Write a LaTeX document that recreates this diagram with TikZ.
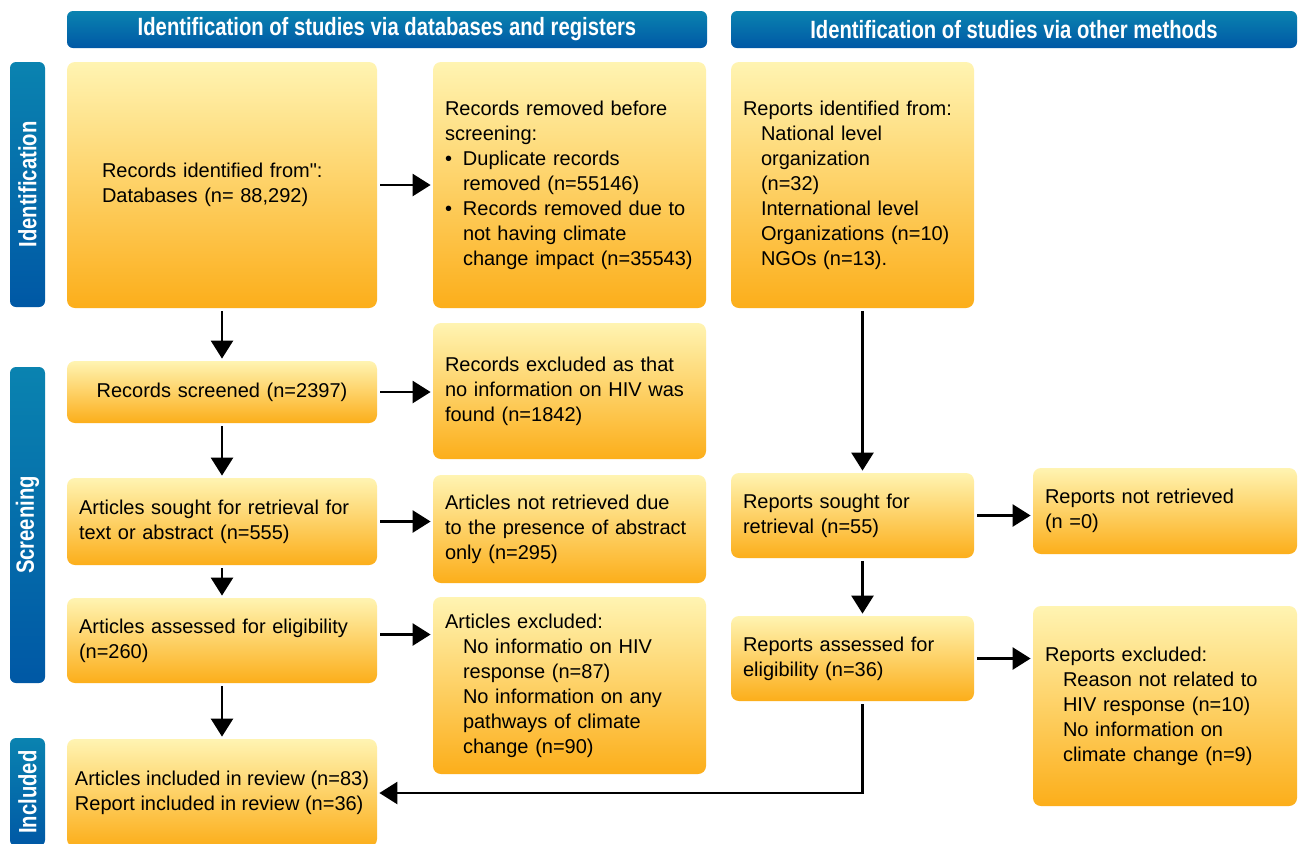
\documentclass[tikz,border=0pt]{standalone}
\usepackage{fontspec}
\setmainfont{Liberation Sans}
\newfontfamily\headfont{Liberation Sans}[FakeStretch=0.81]
\usetikzlibrary{arrows.meta}

\definecolor{boxtop}{RGB}{255,244,178}
\definecolor{boxbot}{RGB}{252,174,26}
\definecolor{bartop}{RGB}{10,131,176}
\definecolor{barbot}{RGB}{0,88,165}

\newcommand{\subln}{\hspace*{9pt}}
\newcommand{\bulln}{\makebox[9pt][l]{\textbullet}}

\tikzset{
  box/.style={rounded corners=4pt, top color=boxtop, bottom color=boxbot,
    inner xsep=6pt, inner ysep=0pt, align=left,
    font=\fontsize{10}{12.5}\selectfont},
  leftcol/.style={box, minimum width=155pt, text width=143pt},
  midcol/.style={box, minimum width=136.5pt, text width=124.5pt},
  rightcol/.style={box, minimum width=121.5pt, text width=109.5pt},
  farcol/.style={box, minimum width=132pt, text width=120pt},
  head/.style={rounded corners=3pt, top color=bartop, bottom color=barbot,
    text=white, minimum height=18.5pt, inner sep=0pt,
    font=\headfont\bfseries\fontsize{12.5}{14}\selectfont},
  side/.style={head, rotate=90, minimum height=17.5pt},
  arr/.style={-{Triangle[length=9pt,width=11pt]}, line width=1.3pt,
    shorten <=1.5pt, shorten >=1pt}
}

\begin{document}
\begin{tikzpicture}[x=0.5pt,y=-0.5pt]%prisma flow
\useasboundingbox (0,0) rectangle (1298,843);
\clip (0,0) rectangle (1298,843);
\fill[white] (0,0) rectangle (1298,843);

\node[head, minimum width=320pt] (hdb) at (387,29.5) {Identification of studies via databases and registers};
\node[head, minimum width=283pt] (hother) at (1014,29.5) {Identification of studies via other methods};

\node[side, minimum width=122.5pt] (sident) at (27.5,184.5) {Identification};
\node[side, minimum width=158pt] (sscreen) at (27.5,525) {Screening};
\node[side, minimum width=54pt] (sincl) at (27.5,792) {Included};

\node[leftcol, minimum height=123pt, text width=120pt] (ident) at (222,185)
  {Records identified from\textquotedbl:\\Databases (n= 88,292)};
\node[leftcol, minimum height=31pt, align=center] (screen) at (222,392)
  {Records screened (n=2397)};
\node[leftcol, minimum height=43.5pt] (sought) at (222,521.5)
  {Articles sought for retrieval for\\text or abstract (n=555)};
\node[leftcol, minimum height=42.5pt] (assess) at (222,640.5)
  {Articles assessed for eligibility\\(n=260)};
\node[leftcol, minimum height=54pt, inner xsep=2pt, text width={}] (incl) at (222,793)
  {Articles included in review (n=83)\\Report included in review (n=36)};

\node[midcol, minimum height=123pt] (removed) at (569.5,185)
  {Records removed before\\screening:\\\bulln Duplicate records\\\subln removed (n=55146)\\\bulln Records removed due to\\\subln not having climate\\\subln change impact (n=35543)};
\node[midcol, minimum height=68pt] (excl) at (569.5,391)
  {Records excluded as that\\no information on HIV was\\found (n=1842)};
\node[midcol, minimum height=54pt] (notret) at (569.5,529)
  {Articles not retrieved due\\to the presence of abstract\\only (n=295)};
\node[midcol, minimum height=88.5pt] (artexcl) at (569.5,685.5)
  {Articles excluded:\\\subln No informatio on HIV\\\subln response (n=87)\\\subln No information on any\\\subln pathways of climate\\\subln change (n=90)};

\node[rightcol, minimum height=123pt] (rident) at (852.5,185)
  {Reports identified from:\\\subln National level\\\subln organization\\\subln (n=32)\\\subln International level\\\subln Organizations (n=10)\\\subln NGOs (n=13).};
\node[rightcol, minimum height=42.5pt] (rsought) at (852.5,515.5)
  {Reports sought for\\retrieval (n=55)};
\node[rightcol, minimum height=42.5pt] (rassess) at (852.5,658.5)
  {Reports assessed for\\eligibility (n=36)};

\node[farcol, minimum height=43pt] (rnotret) at (1165,511)
  {Reports not retrieved\\(n =0)};
\node[farcol, minimum height=100pt] (rexcl) at (1165,706)
  {Reports excluded:\\\subln Reason not related to\\\subln HIV response (n=10)\\\subln No information on\\\subln climate change (n=9)};

\draw[arr] (ident) -- (removed);
\draw[arr] (ident) -- (screen);
\draw[arr] (screen.east) -- (screen.east -| excl.west);
\draw[arr] (screen) -- (sought);
\draw[arr] (sought.east) -- (sought.east -| notret.west);
\draw[arr] (sought) -- (assess);
\draw[arr] ([yshift=3pt]assess.east) -- ([yshift=3pt]assess.east -| artexcl.west);
\draw[arr] (assess) -- (incl);
\draw[arr] ([xshift=5pt]rident.south) -- ([xshift=5pt]rsought.north);
\draw[arr] (rsought.east) -- (rsought.east -| rnotret.west);
\draw[arr] ([xshift=5pt]rsought.south) -- ([xshift=5pt]rassess.north);
\draw[arr] (rassess.east) -- (rassess.east -| rexcl.west);
\draw[arr] ([xshift=5pt]rassess.south) |- (incl.east);
\end{tikzpicture}
\end{document}
